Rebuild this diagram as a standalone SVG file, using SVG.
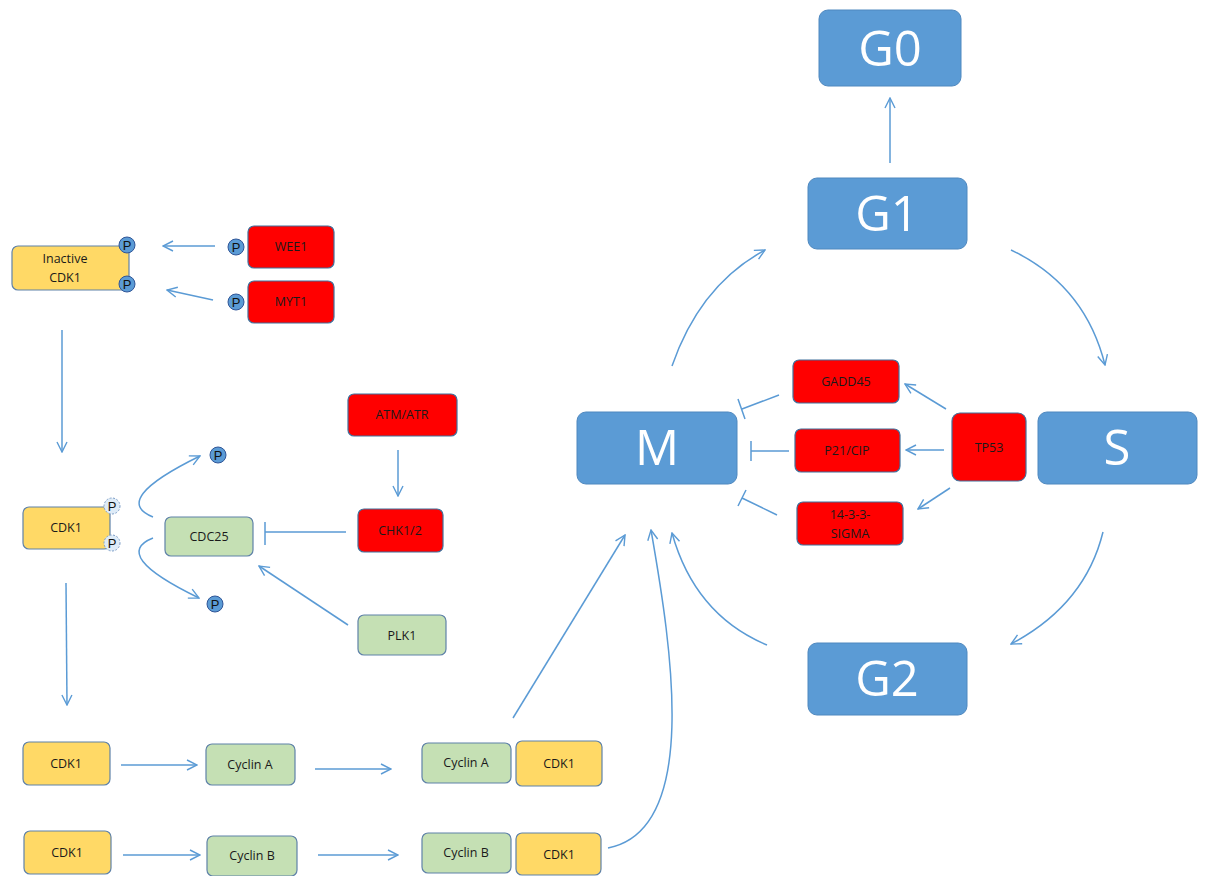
<svg xmlns="http://www.w3.org/2000/svg" width="1208" height="876" viewBox="0 0 1208 876">
<defs>
<marker id="arr" viewBox="0 0 12 12" refX="11" refY="6" markerWidth="12" markerHeight="12" markerUnits="userSpaceOnUse" orient="auto">
<path d="M1,1 L11,6 L1,11" fill="none" stroke="#5B9BD5" stroke-width="1.4"/>
</marker>
</defs>
<style>
.big{fill:#5B9BD5;stroke:#4F88BF;stroke-width:1}
.red{fill:#FF0000;stroke:#41719C;stroke-width:1.2}
.yel{fill:#FFD966;stroke:#5F82A8;stroke-width:1.2}
.grn{fill:#C5E0B4;stroke:#5F82A8;stroke-width:1.2}
.bt{font-family:"Open Sans","Liberation Sans",sans-serif;font-size:49px;fill:#FFFFFF;text-anchor:middle}
.st{font-family:"Open Sans","Liberation Sans",sans-serif;font-size:12.5px;fill:#1a1a1a;text-anchor:middle}
.c{fill:none;stroke:#5B9BD5;stroke-width:1.5}
.pc{fill:#5B9BD5;stroke:#2F5597;stroke-width:1}
.pd{fill:#DEEBF7;stroke:#7F9FC8;stroke-width:1;stroke-dasharray:2,1.5}
.pt{font-family:"Liberation Sans",sans-serif;font-size:13px;fill:#111;text-anchor:middle}
</style>
<g id="connectors">
<path class="c" d="M890,163 L890,98" marker-end="url(#arr)"/>
<path class="c" d="M672,366 Q700,285 765,250" marker-end="url(#arr)"/>
<path class="c" d="M1011,250 Q1085,285 1105,365" marker-end="url(#arr)"/>
<path class="c" d="M1103,532 Q1085,605 1011,644" marker-end="url(#arr)"/>
<path class="c" d="M767,645 Q695,615 672,533" marker-end="url(#arr)"/>
<path class="c" d="M513,718 L625,535" marker-end="url(#arr)"/>
<path class="c" d="M608,848 C700,830 672,650 651,530" marker-end="url(#arr)"/>
<path class="c" d="M779,395 L742,409 M738,399 L745,419"/>
<path class="c" d="M789,451 L751,451 M751,441 L751,461"/>
<path class="c" d="M777,515 L742,498 M746,490 L738,506"/>
<path class="c" d="M946,409 L905,384" marker-end="url(#arr)"/>
<path class="c" d="M944,450 L906,450" marker-end="url(#arr)"/>
<path class="c" d="M950,488 L918,509" marker-end="url(#arr)"/>
<path class="c" d="M215,246 L163,246" marker-end="url(#arr)"/>
<path class="c" d="M213,300 L167,290" marker-end="url(#arr)"/>
<path class="c" d="M62,330 L62,452" marker-end="url(#arr)"/>
<path class="c" d="M153,517 Q110,500 200,456" marker-end="url(#arr)"/>
<path class="c" d="M153,538 Q110,555 199,598" marker-end="url(#arr)"/>
<path class="c" d="M398,450 L398,496" marker-end="url(#arr)"/>
<path class="c" d="M346,532 L265,532 M265,522 L265,545"/>
<path class="c" d="M348,625 L259,566" marker-end="url(#arr)"/>
<path class="c" d="M66,583 L67,705" marker-end="url(#arr)"/>
<path class="c" d="M121,765 L197,765" marker-end="url(#arr)"/>
<path class="c" d="M315,769 L391,769" marker-end="url(#arr)"/>
<path class="c" d="M123,855 L200,855" marker-end="url(#arr)"/>
<path class="c" d="M318,855 L398,855" marker-end="url(#arr)"/>
</g>
<g id="G0"><rect class="big" x="819" y="10" width="142" height="76" rx="9"/><text class="bt" x="890" y="66">G0</text></g>
<g id="G1"><rect class="big" x="808" y="178" width="159" height="71" rx="9"/><text class="bt" x="887" y="231">G1</text></g>
<g id="M"><rect class="big" x="577" y="412" width="160" height="72" rx="9"/><text class="bt" x="657" y="465">M</text></g>
<g id="S"><rect class="big" x="1038" y="412" width="159" height="72" rx="9"/><text class="bt" x="1117" y="465">S</text></g>
<g id="G2"><rect class="big" x="808" y="643" width="159" height="72" rx="9"/><text class="bt" x="887" y="696">G2</text></g>
<g id="GADD45"><rect class="red" x="793" y="360" width="106" height="43" rx="6"/><text class="st" x="846" y="386">GADD45</text></g>
<g id="P21CIP"><rect class="red" x="795" y="429" width="105" height="43" rx="6"/><text class="st" x="847" y="455">P21/CIP</text></g>
<g id="SIGMA"><rect class="red" x="797" y="502" width="106" height="43" rx="6"/><text class="st" x="850" y="519">14-3-3-</text><text class="st" x="850" y="538">SIGMA</text></g>
<g id="TP53"><rect class="red" x="952" y="413" width="74" height="68" rx="8"/><text class="st" x="989" y="452">TP53</text></g>
<g id="InactiveCDK1"><rect class="yel" x="12" y="246" width="117" height="44" rx="6"/><text class="st" x="65" y="263">Inactive</text><text class="st" x="65" y="282">CDK1</text>
<circle class="pc" cx="127" cy="245" r="8"/><text class="pt" x="127" y="250">P</text>
<circle class="pc" cx="127" cy="284" r="8"/><text class="pt" x="127" y="289">P</text></g>
<g id="WEE1"><rect class="red" x="248" y="226" width="86" height="42" rx="6"/><text class="st" x="291" y="251">WEE1</text>
<circle class="pc" cx="236" cy="247" r="8"/><text class="pt" x="236" y="252">P</text></g>
<g id="MYT1"><rect class="red" x="248" y="281" width="86" height="42" rx="6"/><text class="st" x="291" y="306">MYT1</text>
<circle class="pc" cx="236" cy="302" r="8"/><text class="pt" x="236" y="307">P</text></g>
<g id="CDK1b"><rect class="yel" x="23" y="507" width="87" height="42" rx="6"/><text class="st" x="66" y="532">CDK1</text>
<circle class="pd" cx="112" cy="506" r="8"/><text class="pt" x="112" y="511">P</text>
<circle class="pd" cx="112" cy="543" r="8"/><text class="pt" x="112" y="548">P</text></g>
<g id="Pfree1"><circle class="pc" cx="218" cy="455" r="8"/><text class="pt" x="218" y="460">P</text></g>
<g id="Pfree2"><circle class="pc" cx="215" cy="604" r="8"/><text class="pt" x="215" y="609">P</text></g>
<g id="CDC25"><rect class="grn" x="165" y="517" width="88" height="39" rx="6"/><text class="st" x="209" y="541">CDC25</text></g>
<g id="ATMATR"><rect class="red" x="348" y="394" width="109" height="42" rx="6"/><text class="st" x="402" y="419">ATM/ATR</text></g>
<g id="CHK12"><rect class="red" x="358" y="509" width="85" height="43" rx="6"/><text class="st" x="400" y="535">CHK1/2</text></g>
<g id="PLK1"><rect class="grn" x="358" y="615" width="88" height="40" rx="6"/><text class="st" x="402" y="640">PLK1</text></g>
<g id="CDK1c"><rect class="yel" x="23" y="742" width="87" height="43" rx="6"/><text class="st" x="66" y="768">CDK1</text></g>
<g id="CyclinA"><rect class="grn" x="206" y="744" width="89" height="41" rx="6"/><text class="st" x="250" y="769">Cyclin A</text></g>
<g id="CyclinA2"><rect class="grn" x="422" y="743" width="89" height="40" rx="6"/><text class="st" x="466" y="767">Cyclin A</text></g>
<g id="CDK1d"><rect class="yel" x="516" y="741" width="86" height="45" rx="6"/><text class="st" x="559" y="768">CDK1</text></g>
<g id="CDK1e"><rect class="yel" x="24" y="831" width="87" height="43" rx="6"/><text class="st" x="67" y="857">CDK1</text></g>
<g id="CyclinB"><rect class="grn" x="207" y="836" width="90" height="40" rx="6"/><text class="st" x="252" y="860">Cyclin B</text></g>
<g id="CyclinB2"><rect class="grn" x="422" y="833" width="89" height="40" rx="6"/><text class="st" x="466" y="857">Cyclin B</text></g>
<g id="CDK1f"><rect class="yel" x="516" y="833" width="85" height="42" rx="6"/><text class="st" x="559" y="859">CDK1</text></g>
</svg>
